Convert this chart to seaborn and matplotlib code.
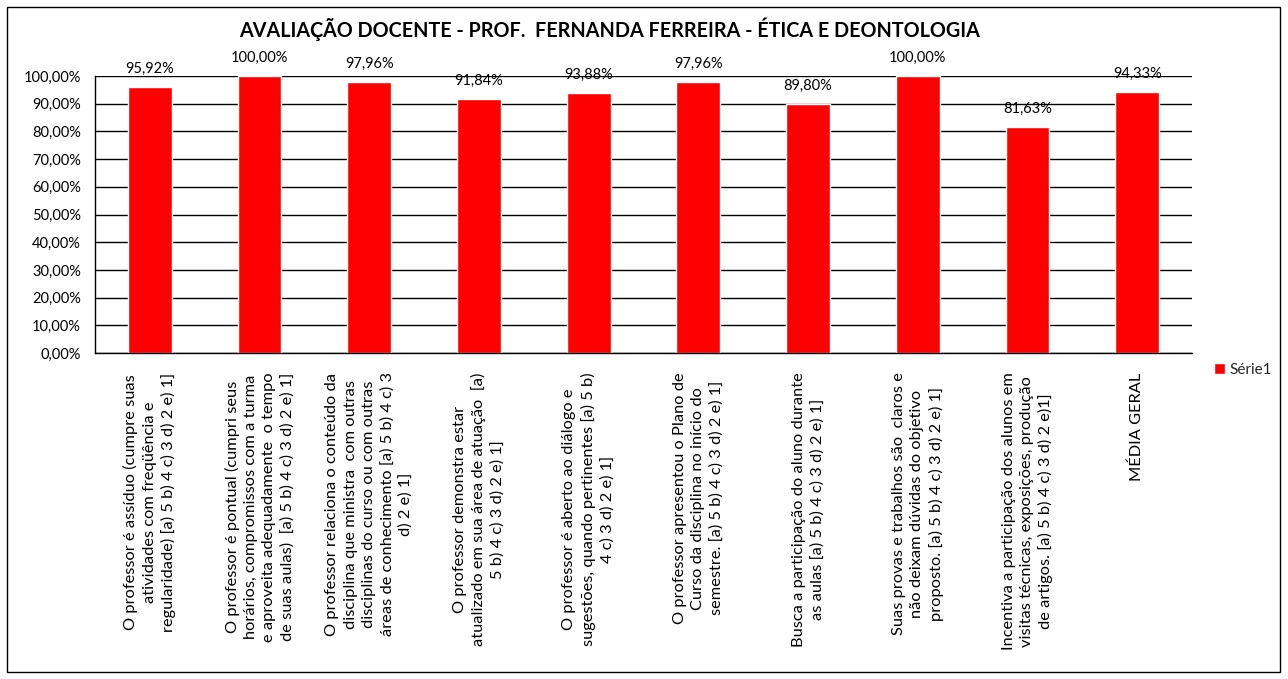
import matplotlib
matplotlib.use("Agg")
import matplotlib.pyplot as plt
from matplotlib.patches import Rectangle
from matplotlib.ticker import FuncFormatter
import pandas as pd
import seaborn as sns

# Data
categories = [
    "O professor é assíduo (cumpre suas\natividades com freqüência e\nregularidade) [a) 5 b) 4 c) 3 d) 2 e) 1]",
    "O professor é pontual (cumpri seus\nhorários, compromissos com a turma\ne aproveita adequadamente  o tempo\nde suas aulas)  [a) 5 b) 4 c) 3 d) 2 e) 1]",
    "O professor relaciona o conteúdo da\ndisciplina que ministra  com outras\ndisciplinas do curso ou com outras\náreas de conhecimento [a) 5 b) 4 c) 3\nd) 2 e) 1]",
    "O professor demonstra estar\natualizado em sua área de atuação  [a)\n5 b) 4 c) 3 d) 2 e) 1]",
    "O professor é aberto ao diálogo e\nsugestões, quando pertinentes [a) 5 b)\n4 c) 3 d) 2 e) 1]",
    "O professor apresentou o Plano de\nCurso da disciplina no início do\nsemestre. [a) 5 b) 4 c) 3 d) 2 e) 1]",
    "Busca a participação do aluno durante\nas aulas [a) 5 b) 4 c) 3 d) 2 e) 1]",
    "Suas provas e trabalhos são  claros e\nnão deixam dúvidas do objetivo\nproposto. [a) 5 b) 4 c) 3 d) 2 e) 1]",
    "Incentiva a participação dos alunos em\nvisitas técnicas, exposições, produção\nde artigos. [a) 5 b) 4 c) 3 d) 2 e)1]",
    "MÉDIA GERAL",
]
values = [95.92, 100.00, 97.96, 91.84, 93.88, 97.96, 89.80, 100.00, 81.63, 94.33]
series_name = "Série1"
title = "AVALIAÇÃO DOCENTE - PROF.  FERNANDA FERREIRA - ÉTICA E DEONTOLOGIA"

df = pd.DataFrame({"categoria": categories, "valor": values})

sns.set_theme(style="white")
plt.rcParams["font.family"] = ["Lato", "DejaVu Sans"]

W, H = 1288, 679
fig = plt.figure(figsize=(W / 100, H / 100), dpi=100)
ax = fig.add_axes([95 / W, 1 - 353 / H, (1192 - 95) / W, (353 - 76) / H])

sns.barplot(data=df, x="categoria", y="valor", color="#FF0000", saturation=1,
            width=0.4, label=series_name, ax=ax)

ax.set_ylim(0, 100)
ax.set_yticks(range(0, 101, 10))
ax.yaxis.set_major_formatter(FuncFormatter(lambda v, p: f"{v:.2f}".replace(".", ",") + "%"))
ax.yaxis.grid(True, color="black", linewidth=1)
ax.set_axisbelow(True)
ax.set_xlabel("")
ax.set_ylabel("")
for s in ["top", "right"]:
    ax.spines[s].set_visible(False)
for s in ["left", "bottom"]:
    ax.spines[s].set_color("black")
    ax.spines[s].set_linewidth(1)
ax.tick_params(axis="y", length=0, pad=10, labelsize=10.5, colors="black")
ax.tick_params(axis="x", length=0, pad=14, labelsize=11.8, colors="black")
ax.set_xticks(range(len(categories)))
ax.set_xticklabels(categories, rotation=90, ha="center", va="top", multialignment="center",
                   linespacing=1.38)

# value labels
ax.bar_label(ax.containers[0], labels=[f"{v:.2f}".replace(".", ",") + "%" for v in values],
             padding=8, fontsize=10.5, color="black")

fig.text(610 / W, 1 - 29 / H, title, ha="center", va="center", fontsize=14.2,
         fontweight="bold", color="black")

ax.legend(loc="center left", bbox_to_anchor=(1214 / W, 1 - 370 / H), bbox_transform=fig.transFigure,
          frameon=False, borderpad=0, borderaxespad=0, handlelength=0.7, handleheight=0.7,
          handletextpad=0.3, fontsize=11)

fig.add_artist(Rectangle((7 / W, 1 - 672 / H), (1280 - 7) / W, (672 - 7) / H,
                         transform=fig.transFigure, fill=False, edgecolor="black", linewidth=1))

fig.savefig("out.png", dpi=100)
